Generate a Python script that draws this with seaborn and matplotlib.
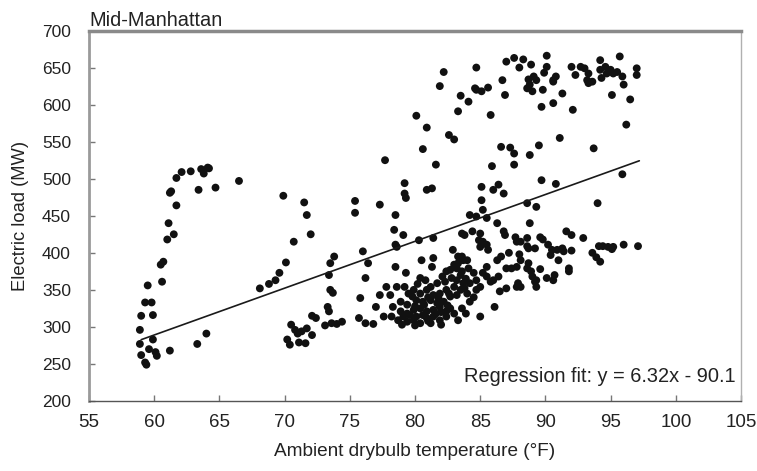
import numpy as np
import pandas as pd
import matplotlib
matplotlib.use("Agg")
import matplotlib.pyplot as plt
import seaborn as sns

# Readings taken off the chart: (temperature degF, load MW)
# left branch, cool days
cool_temp = [64.1, 63.6, 63.8, 64.2, 62.8, 62.1, 61.7, 63.4, 64.7, 66.5, 61.3, 61.2, 61.7, 61.1,
             61.0, 61.5, 60.7, 60.5, 60.6, 59.5, 59.3, 59.8, 59.0, 59.9, 58.9, 58.9, 59.9, 59.0,
             59.6, 60.1, 60.2, 59.3, 59.4, 61.2, 63.3, 64.0, 68.1, 68.8, 69.3, 69.6]
cool_load = [515, 513, 507, 514, 510, 509, 501, 485, 488, 497, 483, 481, 464, 440,
             418, 425, 388, 384, 361, 356, 333, 333, 315, 316, 296, 277, 283, 262,
             270, 266, 261, 252, 249, 268, 277, 291, 352, 358, 363, 373]

# 70-80 degF
mild_temp = [77.7, 79.2, 79.2, 79.3, 69.9, 71.5, 71.7, 72.0, 70.7, 70.1, 75.4, 75.4, 77.3, 78.5,
             78.4, 79.1, 78.5, 73.8, 73.5, 76.0, 76.4, 73.4, 73.5, 73.7, 76.2, 78.5, 79.3, 77.8,
             77.3, 77.0, 75.8, 75.7, 76.2, 76.8, 73.3, 73.4, 73.1, 73.6, 74.0, 74.4, 72.1, 72.4,
             70.5, 70.8, 71.0, 71.3, 71.7, 72.1, 70.2, 70.4, 71.1, 71.6, 79.2, 78.6]
mild_load = [525, 494, 480, 474, 477, 468, 451, 425, 415, 387, 470, 454, 465, 451,
             431, 424, 411, 395, 386, 402, 386, 370, 350, 346, 366, 381, 373, 354,
             343, 327, 339, 312, 305, 304, 327, 321, 302, 305, 304, 307, 315, 312,
             303, 296, 291, 294, 298, 289, 283, 276, 279, 278, 354, 408]

# dense cluster 78-89 degF
warm_temp = [80.9, 81.3, 85.1, 86.0, 86.4, 86.8, 85.1, 85.2, 84.2, 84.7, 85.5, 88.6, 89.3, 88.8,
             86.3, 86.8, 86.9, 87.7, 87.8, 88.6, 89.2, 88.7, 83.6, 83.8, 84.4, 85.0, 84.9, 85.2,
             85.0, 85.5, 85.6, 81.4, 80.3, 82.9, 83.6, 84.0, 83.3, 84.1, 83.6, 84.5, 82.8, 83.2,
             83.7, 84.2, 84.7, 85.0, 85.2, 85.5, 85.5, 86.0, 86.4, 86.3, 87.0, 87.4, 87.8, 86.5,
             87.0, 87.8, 87.9, 88.6, 89.0, 89.3, 86.1, 85.0, 80.5, 81.4, 81.3, 78.6, 80.4, 80.8,
             82.1, 82.4, 82.7, 83.0, 83.2, 83.5, 82.3, 81.7, 81.2, 79.9, 80.4, 80.9, 81.4, 81.9,
             82.4, 83.0, 83.5, 83.8, 79.8, 80.1, 80.6, 81.2, 81.7, 82.2, 82.7, 83.2, 78.9, 79.4,
             78.3, 78.9, 79.4, 79.9, 80.4, 80.9, 81.4, 81.9, 82.4, 83.0, 77.6, 78.2, 78.7, 79.4,
             79.9, 80.4, 80.9, 81.4, 81.9, 82.4, 83.3, 84.2, 80.1, 80.6, 79.6, 79.1, 81.2, 78.1,
             84.7, 85.8, 83.3, 83.7, 80.0, 80.7, 81.6, 82.0, 82.7, 81.0, 81.8, 82.6, 79.5, 80.2,
             82.5, 83.6, 84.0, 84.5, 83.9, 81.0, 82.0, 80.0, 79.0, 83.9, 86.6, 87.2, 88.0]
warm_load = [485, 487, 489, 485, 492, 480, 471, 458, 451, 449, 447, 467, 462, 440,
             440, 429, 424, 421, 415, 420, 406, 406, 426, 424, 429, 426, 417, 415,
             408, 411, 404, 420, 417, 404, 395, 390, 386, 379, 375, 373, 366, 363,
             359, 359, 363, 354, 373, 381, 368, 363, 368, 390, 379, 379, 381, 348,
             352, 354, 359, 379, 368, 363, 327, 314, 390, 393, 381, 354, 366, 363,
             368, 375, 377, 384, 379, 370, 361, 359, 354, 350, 345, 350, 343, 345,
             350, 354, 350, 352, 341, 336, 334, 336, 332, 334, 341, 343, 334, 330,
             327, 321, 318, 323, 325, 321, 323, 327, 321, 318, 314, 314, 309, 307,
             309, 305, 312, 314, 309, 314, 309, 334, 314, 316, 316, 314, 305, 343,
             350, 361, 395, 390, 328, 330, 318, 320, 325, 340, 339, 345, 345, 358,
             329, 325, 345, 340, 365, 308, 303, 302, 303, 318, 395, 400, 398]

# upper band, hot days
hot_temp = [82.2, 81.9, 84.7, 80.1, 80.9, 80.6, 81.6, 83.3, 84.1, 83.5, 82.6, 83.0, 84.6, 85.1,
            85.6, 84.7, 85.8, 86.7, 86.9, 87.0, 87.6, 88.3, 88.0, 88.9, 90.1, 89.9, 90.1, 88.7,
            89.1, 89.3, 88.8, 88.6, 89.0, 90.6, 90.8, 89.8, 89.7, 90.6, 86.6, 87.3, 87.6, 88.8,
            89.5, 91.1, 85.9, 87.6, 89.7, 90.8, 90.6, 91.3, 92.1, 92.0, 92.3, 92.7, 93.0, 93.3,
            93.6, 93.3, 94.2, 94.2, 94.3, 94.6, 95.0, 95.2, 95.5, 95.7, 95.9, 96.0, 97.0, 97.0,
            95.1, 96.5, 96.2, 93.7, 95.9, 93.2, 94.7]
hot_load = [644, 625, 650, 585, 569, 540, 519, 591, 604, 612, 559, 553, 622, 618,
            623, 620, 586, 633, 613, 658, 663, 661, 650, 654, 666, 643, 651, 634,
            638, 633, 627, 622, 618, 633, 638, 620, 597, 602, 543, 542, 534, 532,
            545, 555, 517, 519, 498, 493, 631, 615, 593, 651, 640, 651, 649, 642,
            631, 629, 660, 647, 636, 651, 647, 642, 644, 665, 638, 627, 649, 640,
            613, 607, 573, 541, 506, 633, 642]

# lower band, hot days
humid_temp = [94.0, 91.6, 92.0, 92.9, 89.6, 89.8, 88.6, 90.2, 90.5, 90.9, 91.3, 91.4, 92.0, 90.4,
              91.0, 88.7, 88.9, 89.6, 90.1, 90.6, 90.7, 91.8, 91.8, 89.2, 89.3, 88.1, 88.1, 88.1,
              93.6, 93.9, 94.2, 94.1, 94.4, 94.8, 95.1, 95.2, 96.0, 97.1]
humid_load = [467, 429, 424, 420, 421, 418, 409, 411, 404, 404, 406, 402, 403, 397,
              390, 386, 375, 378, 366, 363, 370, 379, 375, 361, 354, 354, 390, 415,
              400, 394, 388, 409, 409, 408, 405, 408, 411, 409]

# regression fit printed on the chart
slope = 6.32
intercept = -90.1
fit_range = [59.0, 97.2]

x_ticks = [55, 60, 65, 70, 75, 80, 85, 90, 95, 100, 105]
y_ticks = [200, 250, 300, 350, 400, 450, 500, 550, 600, 650, 700]

df = pd.DataFrame({
    "temp": cool_temp + mild_temp + warm_temp + hot_temp + humid_temp,
    "load": cool_load + mild_load + warm_load + hot_load + humid_load,
})
fit_x = np.array(fit_range)
fit = pd.DataFrame({"temp": fit_x, "load": slope * fit_x + intercept})

sns.set_style("ticks")
plt.rcParams["font.family"] = ["Liberation Sans", "DejaVu Sans"]

fig = plt.figure(figsize=(7.57, 4.71), dpi=100)
ax = fig.add_axes([0.1176, 0.1486, 0.8613, 0.7866])

sns.scatterplot(data=df, x="temp", y="load", ax=ax, color="#111111",
                s=32, edgecolor="none", linewidth=0)
sns.lineplot(data=fit, x="temp", y="load", ax=ax, color="#1a1a1a", linewidth=1.2)

ax.set_xlim(55, 105)
ax.set_ylim(200, 700)
ax.set_xticks(x_ticks)
ax.set_yticks(y_ticks)
ax.tick_params(direction="in", length=4, width=1, colors="#777777",
               labelcolor="#222222")
ax.tick_params(axis="y", pad=13, labelsize=12.5)
ax.tick_params(axis="x", pad=9, labelsize=13.5)

ax.spines["top"].set_color("#8a8a8a")
ax.spines["top"].set_linewidth(2.5)
ax.spines["left"].set_color("#9a9a9a")
ax.spines["left"].set_linewidth(2)
ax.spines["bottom"].set_color("#555555")
ax.spines["bottom"].set_linewidth(1)
ax.spines["right"].set_color("#b0b0b0")
ax.spines["right"].set_linewidth(1)

ax.set_xlabel("Ambient drybulb temperature (°F)", fontsize=13.7, color="#222222", labelpad=9)
ax.set_ylabel("Electric load (MW)", fontsize=13.2, color="#222222", labelpad=9)
ax.set_title("Mid-Manhattan", loc="left", fontsize=14.4, color="#222222", pad=3)
ax.text(0.991, 0.065, "Regression fit: y = 6.32x - 90.1", transform=ax.transAxes,
        ha="right", va="center", fontsize=14.4, color="#222222")

fig.savefig("out.png", dpi=100)
